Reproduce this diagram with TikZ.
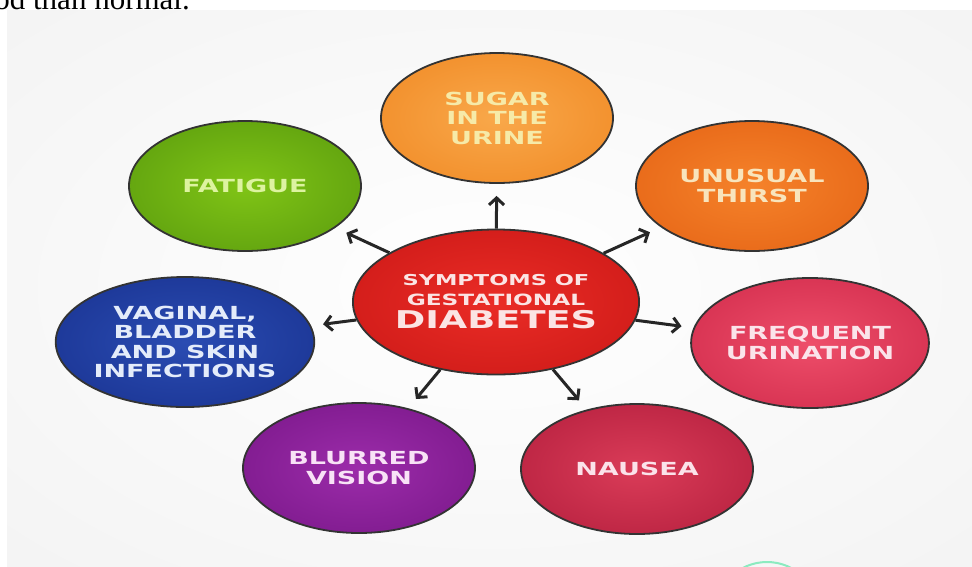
\documentclass[tikz,border=0pt]{standalone}
\usepackage{fontspec}
\setmainfont{Liberation Serif}
\newfontfamily\badgefont[FakeStretch=1.5]{DejaVu Sans Bold}
\usetikzlibrary{shapes.geometric,arrows.meta}

% bubble shading, light in the middle and darker at the rim
\pgfdeclareradialshading[orbin,orbout]{orb}{\pgfpointorigin}{color(0bp)=(orbin); color(50bp)=(orbout)}

\definecolor{panelgray}{HTML}{EFEFEF}
\definecolor{sugarin}{HTML}{F9A84A}
\definecolor{sugarout}{HTML}{EC7C14}
\definecolor{sugartext}{HTML}{F6EAA8}
\definecolor{fatiguein}{HTML}{80C416}
\definecolor{fatigueout}{HTML}{4A8A0A}
\definecolor{fatiguetext}{HTML}{DDF3A0}
\definecolor{thirstin}{HTML}{F5822A}
\definecolor{thirstout}{HTML}{DE560C}
\definecolor{thirsttext}{HTML}{F8E4BC}
\definecolor{freqin}{HTML}{EE4E6A}
\definecolor{freqout}{HTML}{C41C3E}
\definecolor{freqtext}{HTML}{FBE3EA}
\definecolor{nauseain}{HTML}{DA3C58}
\definecolor{nauseaout}{HTML}{A41232}
\definecolor{nauseatext}{HTML}{FBE2EA}
\definecolor{blurin}{HTML}{9C2CAA}
\definecolor{blurout}{HTML}{6A0E7A}
\definecolor{blurtext}{HTML}{F8E2F6}
\definecolor{infectin}{HTML}{2A4CB2}
\definecolor{infectout}{HTML}{122782}
\definecolor{infecttext}{HTML}{E4ECFA}
\definecolor{hubin}{HTML}{EA2C26}
\definecolor{hubout}{HTML}{BE1010}
\definecolor{hubtext}{HTML}{FBE4E4}
\definecolor{ringgreen}{HTML}{8CEBC0}

\begin{document}
\begin{tikzpicture}[x=1pt, y=-1pt,
    badge/.style 2 args={shape=ellipse, draw=black!80, line width=1.8pt,
      minimum width=232pt, minimum height=130pt, inner sep=0pt, align=center,
      font=\badgefont\fontsize{18}{19.5}\selectfont,
      /utils/exec={\colorlet{orbin}{#1}\colorlet{orbout}{#2}}, shading=orb},
    spoke/.style={-{Straight Barb[length=7pt,width=15pt]}, line width=3pt,
      draw=black!85, shorten >=12pt}]

  \useasboundingbox (0,0) rectangle (972,566);
  \clip (0,0) rectangle (972,566);
  \fill[white] (0,0) rectangle (972,566);

  % end of the line of running text above
  \node[anchor=base east, inner sep=0pt, font=\fontsize{31}{36}\selectfont] (prev) at (190,9) {od than normal.};

  % backdrop panel
  \colorlet{orbin}{white}\colorlet{orbout}{panelgray}
  \shade[shading=orb] (7,10) rectangle (972,566);

  % Hub
  \node[badge={hubin}{hubout}, minimum width=255pt, minimum height=145pt, text=hubtext,
    font=\badgefont\fontsize{15}{20}\selectfont] (hub) at (496,302)
    {SYMPTOMS OF\\{\fontsize{15.5}{20}\selectfont GESTATIONAL}\\[3pt]{\fontsize{24.5}{24}\selectfont DIABETES}};

  % Symptom bubbles
  \node[badge={sugarin}{sugarout}, text=sugartext] (sugar) at (497,118) {SUGAR\\IN THE\\URINE};
  \node[badge={fatiguein}{fatigueout}, text=fatiguetext] (fatigue) at (245,186) {FATIGUE};
  \node[badge={thirstin}{thirstout}, text=thirsttext] (thirst) at (752,186) {UNUSUAL\\THIRST};
  \node[badge={infectin}{infectout}, text=infecttext] (infect) at (185,342) {VAGINAL,\\BLADDER\\AND SKIN\\INFECTIONS};
  \node[badge={freqin}{freqout}, text=freqtext] (freq) at (810,343) {FREQUENT\\URINATION};
  \node[badge={blurin}{blurout}, text=blurtext] (blur) at (359,468) {BLURRED\\VISION};
  \node[badge={nauseain}{nauseaout}, text=nauseatext] (nausea) at (637,469) {NAUSEA};

  % Arrows out of the hub
  \path[spoke] (hub) to (sugar);
  \path[spoke] (hub) to (fatigue);
  \path[spoke] (hub) to (thirst);
  \path[spoke] (hub) to (infect);
  \path[spoke] (hub) to (freq);
  \path[spoke] (hub) to (blur);
  \path[spoke] (hub) to (nausea);

  % green ring peeking in at the bottom edge
  \draw[draw=ringgreen, line width=2pt] (767,614) circle (52);

\end{tikzpicture}
\end{document}
